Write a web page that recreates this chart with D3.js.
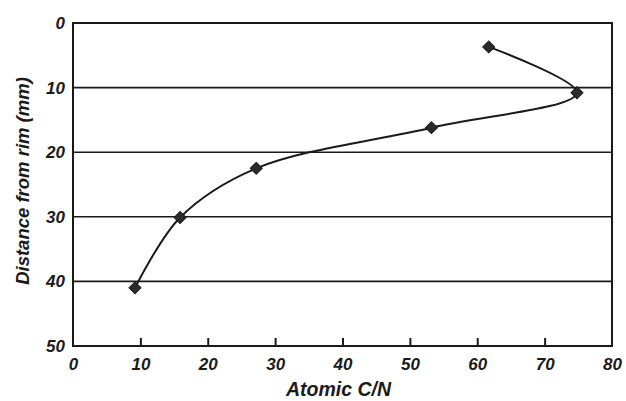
<!DOCTYPE html>
<html lang="en">

<head>
	<meta charset="utf-8">
	<title>Atomic C/N vs distance from rim</title>
	<style>
		body {
			margin: 0;
			background: #fff;
		}

		svg text {
			font-family: 'Liberation Sans', Arial, sans-serif;
			font-weight: bold;
			font-style: italic;
			fill: #1a1a1a;
		}
	</style>
</head>

<body>
	<svg id="chart" width="626" height="401"></svg>

	<script src="https://d3js.org/d3.v7.min.js"></script>
	<script type="text/javascript">
		// values, in drawing order (top of rim point last)
		var cnRatio = [9.2, 15.9, 27.2, 53.2, 74.8, 61.7];
		var distance = [41.0, 30.1, 22.5, 16.2, 10.8, 3.7];

		var xTicks = [0, 10, 20, 30, 40, 50, 60, 70, 80];
		var yTicks = [0, 10, 20, 30, 40, 50];
		var gridLines = [10, 20, 30, 40];

		var xTitle = "Atomic C/N";
		var yTitle = "Distance from rim (mm)";

		var ink = "#1a1a1a";
		var margin = { left: 73, right: 14, top: 23, bottom: 55 };
		var width = 626, height = 401;

		var svg = d3.select("#chart");

		var x = d3.scaleLinear().domain([0, 80]).range([margin.left, width - margin.right]);
		var y = d3.scaleLinear().domain([0, 50]).range([margin.top, height - margin.bottom]);

		// horizontal grid lines
		svg.append("g").selectAll("line").data(gridLines)
			.enter().append("line")
			.attr("x1", x(0)).attr("x2", x(80))
			.attr("y1", function(d) { return y(d); })
			.attr("y2", function(d) { return y(d); })
			.style("stroke", ink)
			.style("stroke-width", 1.6);

		// bottom axis, ticks pointing inward
		var xAxis = d3.axisBottom(x).tickValues(xTicks).tickSizeInner(-8).tickSizeOuter(0).tickPadding(12);
		var gx = svg.append("g")
			.attr("transform", "translate(0," + y(50) + ")")
			.call(xAxis);
		gx.select(".domain").remove();
		gx.selectAll(".tick line")
			.style("stroke", ink)
			.style("stroke-width", 2)
			.filter(function(d) { return d == 0 || d == 80; }).remove();
		gx.selectAll(".tick text")
			.attr("dy", "0.7em")
			.style("font-size", "17px");

		// left axis labels only
		var yAxis = d3.axisLeft(y).tickValues(yTicks).tickSize(0).tickPadding(8);
		var gy = svg.append("g")
			.attr("transform", "translate(" + x(0) + ",0)")
			.call(yAxis);
		gy.select(".domain").remove();
		gy.selectAll(".tick text")
			.style("font-size", "17px");

		// plot frame
		svg.append("rect")
			.attr("x", x(0)).attr("y", y(0))
			.attr("width", x(80) - x(0)).attr("height", y(50) - y(0))
			.style("fill", "none")
			.style("stroke", ink)
			.style("stroke-width", 2);

		// axis titles
		svg.append("text")
			.attr("x", (x(0) + x(80)) / 2 - 4)
			.attr("y", 396)
			.style("text-anchor", "middle")
			.style("font-size", "19.5px")
			.text(xTitle);

		svg.append("text")
			.attr("transform", "translate(29,181) rotate(-90)")
			.style("text-anchor", "middle")
			.style("font-size", "18.5px")
			.text(yTitle);

		// smoothed profile line
		var points = cnRatio.map(function(v, i) { return [v, distance[i]]; });
		var line = d3.line()
			.x(function(d) { return x(d[0]); })
			.y(function(d) { return y(d[1]); })
			.curve(d3.curveCatmullRom.alpha(0.5));

		svg.append("path")
			.datum(points)
			.attr("d", line)
			.style("fill", "none")
			.style("stroke", ink)
			.style("stroke-width", 2);

		// diamond markers (square turned 45 degrees)
		var diamond = d3.symbol().type(d3.symbolSquare).size(72);
		svg.append("g").selectAll("path").data(points)
			.enter().append("path")
			.attr("d", diamond)
			.attr("transform", function(d) { return "translate(" + x(d[0]) + "," + y(d[1]) + ") rotate(45)"; })
			.style("fill", "#2a2a2a")
			.style("stroke", ink)
			.style("stroke-width", 1);
	</script>
</body>

</html>
